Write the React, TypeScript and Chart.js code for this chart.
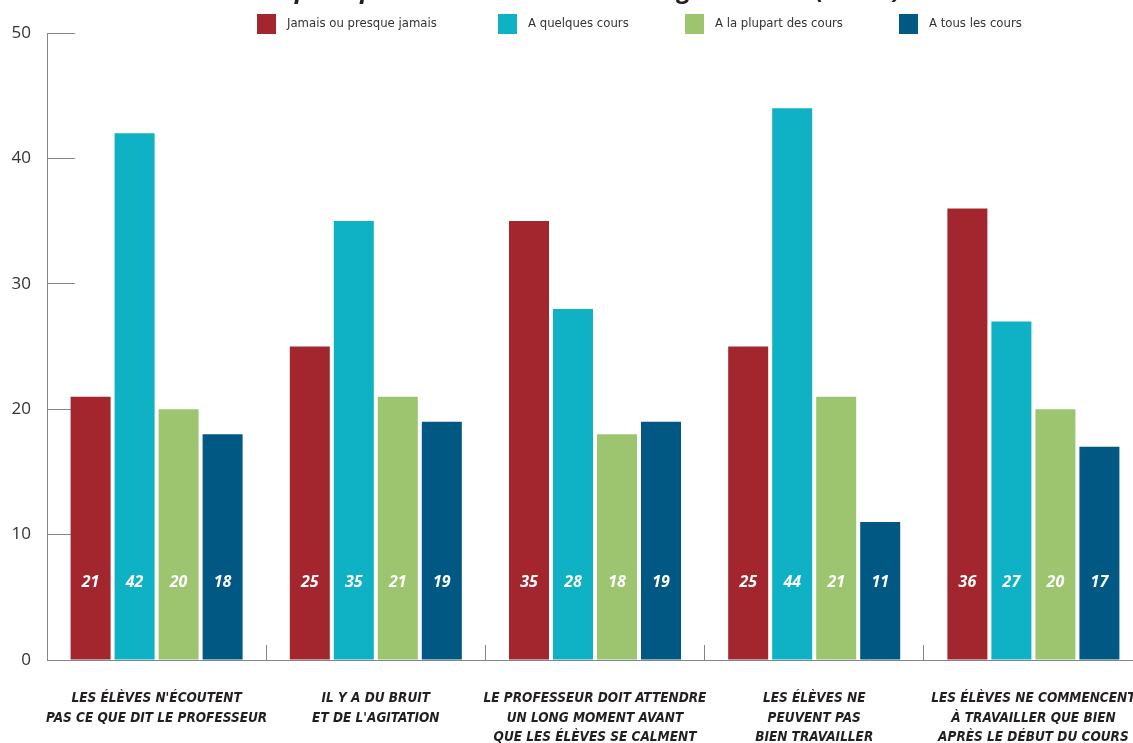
import React, { useEffect, useRef } from "react";
import { Chart, registerables } from "chart.js";

Chart.register(...registerables);

// ---------- data ----------
const titleText = "discipline pendant les cours de la langue du test (arabe)";

const categories: string[][] = [
  ["LES ÉLÈVES N'ÉCOUTENT", "PAS CE QUE DIT LE PROFESSEUR"],
  ["IL Y A DU BRUIT", "ET DE L'AGITATION"],
  ["LE PROFESSEUR DOIT ATTENDRE", "UN LONG MOMENT AVANT", "QUE LES ÉLÈVES SE CALMENT"],
  ["LES ÉLÈVES NE", "PEUVENT PAS", "BIEN TRAVAILLER"],
  ["LES ÉLÈVES NE COMMENCENT", "À TRAVAILLER QUE BIEN", "APRÈS LE DÉBUT DU COURS"],
];

const seriesNames = [
  "Jamais ou presque jamais",
  "A quelques cours",
  "A la plupart des cours",
  "A tous les cours",
];

const jamais = [21, 25, 35, 25, 36];
const quelques = [42, 35, 28, 44, 27];
const plupart = [20, 21, 18, 21, 20];
const tous = [18, 19, 19, 11, 17];

const yMin = 0;
const yMax = 50;
const yStep = 10;

// ---------- styles ----------
const colors = ["#a3262e", "#0fb1c5", "#9dc46f", "#005883"];
const axisColor = "#7d8893";
const TOP_SHIFT = 24; // canvas is shifted up so the title is cut like in the reference
const CANVAS_W = 1150;
const CANVAS_H = 743 + TOP_SHIFT;
const TITLE_SIZE = 25;
const TITLE_LH = 1.2;

const condensedFont = '"Liberation Sans Narrow", "DejaVu Sans Condensed", Roboto, sans-serif';

const valueLabelsPlugin = {
  id: "valueLabels",
  afterDatasetsDraw(chart: any) {
    const { ctx } = chart;
    const y = chart.scales.y;
    ctx.save();
    ctx.font = 'italic bold 16px "Open Sans", sans-serif';
    ctx.fillStyle = "#ffffff";
    ctx.textAlign = "center";
    ctx.textBaseline = "middle";
    chart.data.datasets.forEach((ds: any, i: number) => {
      chart.getDatasetMeta(i).data.forEach((bar: any, j: number) => {
        ctx.fillText(String(ds.data[j]), bar.x, y.getPixelForValue(6.2));
      });
    });
    ctx.restore();
  },
};

const legendXs = [257, 498, 685, 899];
const customLegendPlugin = {
  id: "customLegend",
  afterDraw(chart: any) {
    const { ctx } = chart;
    ctx.save();
    ctx.font = "13px " + condensedFont;
    ctx.textAlign = "left";
    ctx.textBaseline = "middle";
    chart.data.datasets.forEach((ds: any, i: number) => {
      const x = legendXs[i];
      const top = 14 + TOP_SHIFT;
      ctx.fillStyle = ds.backgroundColor;
      ctx.fillRect(x, top, 19, 20);
      ctx.fillStyle = "#333333";
      ctx.fillText(ds.label, x + 30, top + 10);
    });
    ctx.restore();
  },
};

export default function App() {
  const canvasRef = useRef<HTMLCanvasElement | null>(null);

  useEffect(() => {
    if (!canvasRef.current) return;
    const series = [jamais, quelques, plupart, tous];
    const chart = new Chart(canvasRef.current, {
      type: "bar",
      data: {
        labels: categories,
        datasets: series.map((data, i) => ({
          label: seriesNames[i],
          data,
          backgroundColor: colors[i],
          borderWidth: 0,
          categoryPercentage: 0.803,
          barPercentage: 0.909,
        })),
      },
      options: {
        responsive: false,
        animation: false,
        devicePixelRatio: 1,
        layout: {
          autoPadding: false,
          padding: { left: 0, right: CANVAS_W - 1143, top: 0, bottom: 0 },
        },
        plugins: {
          legend: { display: false },
          tooltip: { enabled: false },
          title: {
            display: true,
            text: titleText,
            color: "#231f20",
            font: { family: '"Open Sans", sans-serif', size: TITLE_SIZE, weight: "bold", style: "italic", lineHeight: TITLE_LH },
            padding: { top: 0, bottom: 33 + TOP_SHIFT - TITLE_SIZE * TITLE_LH },
          },
        },
        scales: {
          x: {
            type: "category",
            offset: true,
            grid: {
              offset: true,
              drawOnChartArea: false,
              drawTicks: true,
              tickLength: -15,
              color: axisColor,
              lineWidth: 1,
            },
            border: { display: true, color: axisColor, width: 1 },
            ticks: {
              autoSkip: false,
              maxRotation: 0,
              minRotation: 0,
              padding: 44,
              color: "#231f20",
              font: { family: condensedFont, size: 13.5, weight: "bold", style: "italic", lineHeight: 1.45 },
            },
            afterFit(scale: any) {
              scale.height = 83;
              scale.paddingLeft = 0;
              scale.paddingRight = 0;
              scale.paddingTop = 0;
              scale.paddingBottom = 0;
            },
          },
          y: {
            min: yMin,
            max: yMax,
            grid: {
              drawOnChartArea: false,
              drawTicks: true,
              tickLength: -28,
              color: axisColor,
              lineWidth: 1,
            },
            border: { display: true, color: axisColor, width: 1 },
            ticks: {
              stepSize: yStep,
              padding: 44,
              color: "#333333",
              font: { family: '"Open Sans", sans-serif', size: 17 },
            },
            afterFit(scale: any) {
              scale.width = 47;
              scale.paddingLeft = 0;
              scale.paddingRight = 0;
              scale.paddingTop = 0;
              scale.paddingBottom = 0;
            },
          },
        },
      },
      plugins: [valueLabelsPlugin, customLegendPlugin],
    } as any);
    return () => chart.destroy();
  }, []);

  return (
    <div
      style={{
        position: "fixed",
        left: 0,
        top: 0,
        width: 1133,
        height: 743,
        overflow: "hidden",
        background: "#ffffff",
      }}
    >
      <canvas
        ref={canvasRef}
        width={CANVAS_W}
        height={CANVAS_H}
        style={{ position: "absolute", left: 0, top: -TOP_SHIFT, width: CANVAS_W, height: CANVAS_H }}
      />
    </div>
  );
}
